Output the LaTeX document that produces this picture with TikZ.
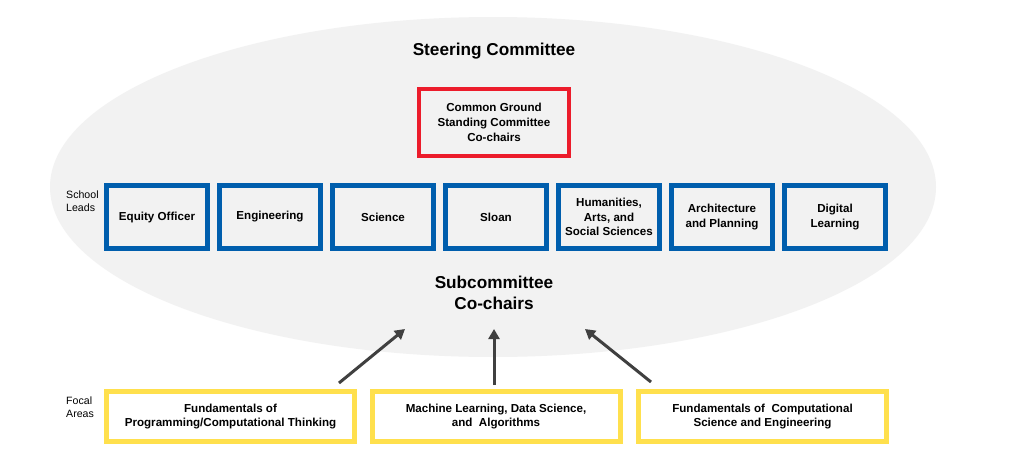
\documentclass[tikz,border=0pt]{standalone}
\usepackage{fontspec}
\setmainfont{Liberation Sans}
\usetikzlibrary{arrows.meta}
\definecolor{ellfill}{HTML}{F2F2F2}
\definecolor{mitred}{HTML}{EC1C2B}
\definecolor{mitblue}{HTML}{005EAD}
\definecolor{mityellow}{HTML}{FFE04D}
\definecolor{arrowgray}{HTML}{404040}
\begin{document}
\begin{tikzpicture}[x=1pt,y=-1pt,
  boxtext/.style={font=\bfseries\fontsize{11.6}{14.8}\selectfont, align=center, inner sep=0pt},
  bluebox/.style={boxtext, draw=mitblue, line width=5pt, minimum width=101pt, minimum height=63pt},
  redbox/.style={boxtext, draw=mitred, line width=4.5pt, minimum width=150pt, minimum height=67pt},
  yellowbox/.style={boxtext, draw=mityellow, line width=5pt, fill=white, minimum width=248pt, minimum height=50pt},
  sidelabel/.style={font=\fontsize{10.6}{13.5}\selectfont, align=left, anchor=west, inner sep=0pt},
  bigtitle/.style={font=\bfseries\fontsize{17.2}{20.5}\selectfont, align=center, inner sep=0pt},
  uparrow/.style={draw=arrowgray, line width=3pt, -{Triangle[length=10pt,width=11pt]}}
]
\useasboundingbox (0,0) rectangle (1024,458);
\fill[white] (0,0) rectangle (1024,458);
\fill[ellfill] (493,187) ellipse [x radius=443, y radius=170];

\node[bigtitle] (steer) at (494,51.5) {Steering Committee};
\node[redbox] (cg) at (494,122.5) {Common Ground\\Standing Committee\\Co-chairs};

\node[sidelabel] (school) at (66,201) {School\\Leads};
\node[bluebox] (b1) at (157,217) {Equity Officer};
\node[bluebox] (b2) at (270,217) {Engineering};
\node[bluebox] (b3) at (383,217) {Science};
\node[bluebox] (b4) at (496,217) {Sloan};
\node[bluebox] (b5) at (609,217) {Humanities,\\Arts, and\\Social Sciences};
\node[bluebox] (b6) at (722,217) {Architecture\\and Planning};
\node[bluebox] (b7) at (835,217) {Digital\\Learning};

\node[bigtitle] (sub) at (494,293) {Subcommittee\\Co-chairs};

\node[sidelabel] (focal) at (66,407) {Focal\\Areas};
\node[yellowbox] (y1) at (230.5,416.5) {Fundamentals of\\Programming/Computational Thinking};
\node[yellowbox] (y2) at (496,416.5) {Machine Learning, Data Science,\\and\ \ Algorithms};
\node[yellowbox] (y3) at (762.5,416.5) {Fundamentals of\ \ Computational\\Science and Engineering};

\coordinate (t1) at (339,383);
\coordinate (h1) at (405,329);
\coordinate (t2) at (494,385);
\coordinate (h2) at (494,329);
\coordinate (t3) at (651,382);
\coordinate (h3) at (585,329);
\draw[uparrow] (t1) -- (h1);
\draw[uparrow] (t2) -- (h2);
\draw[uparrow] (t3) -- (h3);
\end{tikzpicture}
\end{document}
